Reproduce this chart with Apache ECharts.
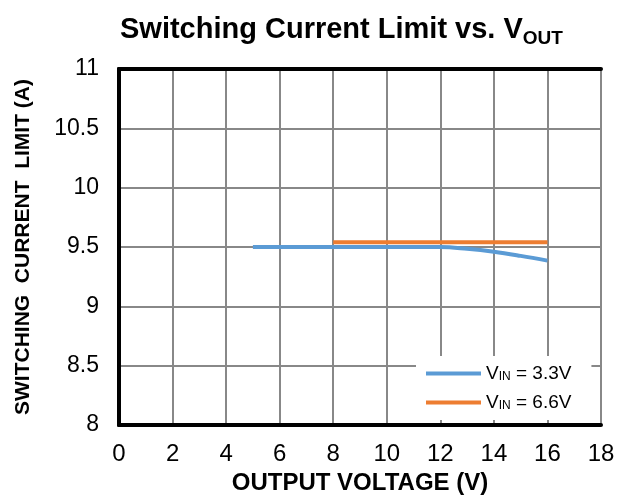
<!DOCTYPE html>
<html><head><meta charset="utf-8">
<script src="https://cdn.jsdelivr.net/npm/echarts@6/dist/echarts.min.js"></script>
<style>html,body{margin:0;padding:0;background:#fff}#c{width:625px;height:495px}</style>
</head><body><div id="c"></div>
<script>
const vin33X = [5, 6, 8, 10, 11, 12, 13, 14, 15, 16];
const vin33Y = [9.5, 9.5, 9.5, 9.5, 9.5, 9.5, 9.485, 9.46, 9.425, 9.385];
const vin66X = [8, 10, 12, 14, 16];
const vin66Y = [9.54, 9.54, 9.54, 9.54, 9.54];
const xTicks = [0, 2, 4, 6, 8, 10, 12, 14, 16, 18];
const yTicks = [8, 8.5, 9, 9.5, 10, 10.5, 11];
const seriesNames = ['VIN = 3.3V', 'VIN = 6.6V'];
const legendRich = {'VIN = 3.3V': '3.3V', 'VIN = 6.6V': '6.6V'};

const font = 'Arial, "Liberation Sans", sans-serif';
const chart = echarts.init(document.getElementById('c'));
const pair = (xs, ys) => xs.map((x, i) => [x, ys[i]]);
const axisLineStyle = {show: true, lineStyle: {color: '#000', width: 4}};
chart.setOption({
  animation: false,
  title: {
    text: '{t|Switching Current Limit vs. V}{s|OUT}',
    left: 115, top: 10,
    textStyle: {rich: {
      t: {fontFamily: font, fontWeight: 'bold', fontSize: 29, color: '#000', verticalAlign: 'bottom'},
      s: {fontFamily: font, fontWeight: 'bold', fontSize: 19, color: '#000', verticalAlign: 'bottom', padding: [0,0,-4,0]}
    }}
  },
  grid: {left: 119, right: 24, top: 69, bottom: 70, containLabel: false, outerBoundsMode: 'none'},
  legend: {
    data: seriesNames,
    left: 416, top: 356,
    orient: 'vertical',
    backgroundColor: '#fff',
    padding: [8, 20, 8, 10],
    itemGap: 10,
    itemWidth: 55, itemHeight: 4,
    icon: 'rect',
    formatter: n => '{v|V}{s|IN}{v| = ' + legendRich[n] + '}',
    textStyle: {rich: {
      v: {fontFamily: font, fontSize: 19, color: '#000'},
      s: {fontFamily: font, fontSize: 12, color: '#000', padding: [6,0,0,0]}
    }}
  },
  xAxis: [{
    type: 'value', min: 0, max: 18, interval: 2,
    name: 'OUTPUT VOLTAGE (V)', nameLocation: 'middle', nameGap: 45,
    nameTextStyle: {fontFamily: font, fontWeight: 'bold', fontSize: 24, color: '#000'},
    axisLine: axisLineStyle, axisTick: {show: false},
    axisLabel: {fontFamily: font, fontSize: 24, color: '#000', margin: 17,
      formatter: v => xTicks.includes(v) ? String(v) : ''},
    splitLine: {show: true, lineStyle: {color: '#888', width: 2}}
  }, {
    type: 'value', min: 0, max: 18, position: 'top',
    axisLine: axisLineStyle, axisTick: {show: false}, axisLabel: {show: false}, splitLine: {show: false}
  }],
  yAxis: [{
    type: 'value', min: 8, max: 11, interval: 0.5,
    name: 'SWITCHING  CURRENT  LIMIT (A)', nameLocation: 'middle', nameGap: 85,
    nameTextStyle: {fontFamily: font, fontWeight: 'bold', fontSize: 21, color: '#000'},
    axisLine: axisLineStyle, axisTick: {show: false},
    axisLabel: {fontFamily: font, fontSize: 23, color: '#000', margin: 20,
      formatter: v => yTicks.includes(v) ? String(v) : ''},
    splitLine: {show: true, lineStyle: {color: '#888', width: 2}}
  }, {
    type: 'value', min: 8, max: 11, position: 'right',
    axisLine: axisLineStyle, axisTick: {show: false}, axisLabel: {show: false}, splitLine: {show: false}
  }],
  series: [{
    name: seriesNames[0], type: 'line', data: pair(vin33X, vin33Y), smooth: 0.4,
    showSymbol: false, lineStyle: {color: '#5B9BD5', width: 4}, itemStyle: {color: '#5B9BD5'}, z: 3
  }, {
    name: seriesNames[1], type: 'line', data: pair(vin66X, vin66Y),
    showSymbol: false, lineStyle: {color: '#ED7D31', width: 4}, itemStyle: {color: '#ED7D31'}, z: 3
  }]
});
</script></body></html>
